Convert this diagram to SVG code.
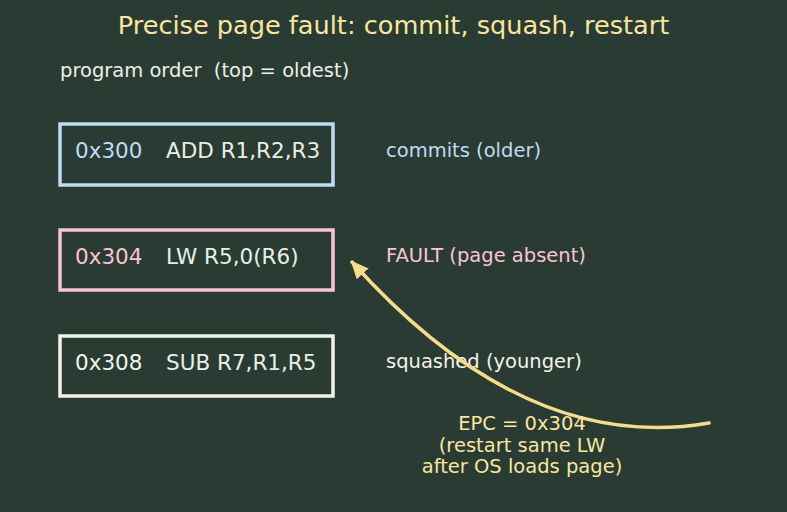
<svg xmlns="http://www.w3.org/2000/svg" width="787" height="512" viewBox="0 0 787 512">
<defs>
<style>
text{font-family:"DejaVu Sans","Liberation Sans",sans-serif}
.box{fill:#2a3b33;stroke-width:3.5}
.code{font-size:21.5px}
.lbl{font-size:19.5px}
</style>
<marker id="ah" markerWidth="18" markerHeight="16" refX="16" refY="8" orient="auto" markerUnits="userSpaceOnUse" viewBox="0 0 18 16"><path d="M0,0 L18,8 L0,16 Z" fill="#f8dc8e"/></marker>
</defs>
<rect width="787" height="512" fill="#2a3b33"/>
<text x="393.5" y="34" text-anchor="middle" font-size="25.6" fill="#f8e6a0">Precise page fault: commit, squash, restart</text>
<text x="60" y="77" class="lbl" fill="#eeeee8" xml:space="preserve">program order  (top = oldest)</text>
<g id="n1">
<rect class="box" x="60" y="124" width="273" height="61" stroke="#bfdcf5"/>
<text x="75" y="158" class="code" fill="#bfdcf5">0x300</text>
<text x="166" y="158" class="code" fill="#e8efe6">ADD R1,R2,R3</text>
<text x="386" y="157" class="lbl" fill="#bfdcf5">commits (older)</text>
</g>
<g id="n2">
<rect class="box" x="60" y="230" width="273" height="60" stroke="#f7c5d5"/>
<text x="75" y="264" class="code" fill="#f7c5d5">0x304</text>
<text x="166" y="264" class="code" fill="#e8efe6">LW R5,0(R6)</text>
<text x="386" y="262" class="lbl" fill="#f7c5d5">FAULT (page absent)</text>
</g>
<g id="n3">
<rect class="box" x="60" y="336" width="273" height="60" stroke="#f3f3ea"/>
<text x="75" y="370" class="code" fill="#f3f3ea">0x308</text>
<text x="166" y="370" class="code" fill="#e8efe6">SUB R7,R1,R5</text>
<text x="386" y="368" class="lbl" fill="#f3f3ea">squashed (younger)</text>
</g>
<g id="connectors">
<path d="M709,423 Q525,455 352,262" fill="none" stroke="#f8dc8e" stroke-width="3.5" stroke-linecap="round" marker-end="url(#ah)"/>
</g>
<g id="epc" fill="#f8e6a0" text-anchor="middle">
<text x="522" y="430" class="lbl">EPC = 0x304</text>
<text x="522" y="452" class="lbl">(restart same LW</text>
<text x="522" y="473" class="lbl">after OS loads page)</text>
</g>
</svg>
